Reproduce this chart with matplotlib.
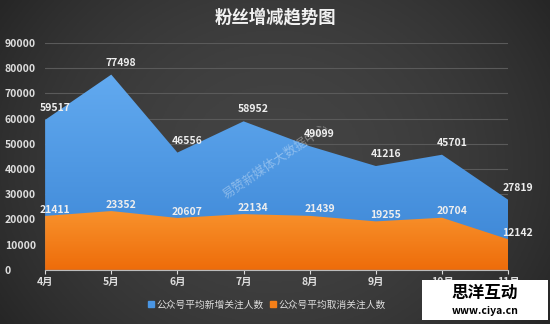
import matplotlib
matplotlib.use("Agg")
import matplotlib.pyplot as plt
import numpy as np
from matplotlib.colors import LinearSegmentedColormap

plt.rcParams["font.family"] = ["Noto Sans CJK SC", "DejaVu Sans"]

months = ["4月", "5月", "6月", "7月", "8月", "9月", "10月", "11月"]
new_follow = [59517, 77498, 46556, 58952, 49099, 41216, 45701, 27819]
unfollow = [21411, 23352, 20607, 22134, 21439, 19255, 20704, 12142]
series_names = ["公众号平均新增关注人数", "公众号平均取消关注人数"]
y_ticks = [0, 10000, 20000, 30000, 40000, 50000, 60000, 70000, 80000, 90000]

title = "粉丝增减趋势图"
watermark = "易赞新媒体大数据中心"


def gradient_fill(ax, x, y, top_color, bottom_color):
    poly = ax.fill_between(x, 0, y, color=top_color, linewidth=0)
    cmap = LinearSegmentedColormap.from_list("g", [bottom_color, top_color])
    grad = np.linspace(0, 1, 256).reshape(-1, 1)
    img = ax.imshow(grad, cmap=cmap, aspect="auto", origin="lower",
                    extent=[x[0], x[-1], 0, max(y)], zorder=poly.get_zorder())
    img.set_clip_path(poly.get_paths()[0], transform=ax.transData)
    poly.set_alpha(0)
    return poly


fig = plt.figure(figsize=(5.5, 3.24), dpi=100)

# dark background with lighter centre
bg = fig.add_axes([0, 0, 1, 1])
xx = np.linspace(-1, 1, 400)
yy = np.linspace(-1, 1, 240)
X, Y = np.meshgrid(xx, yy)
shade = 1 - 0.55 * X ** 2 - 0.25 * Y ** 2
bg_cmap = LinearSegmentedColormap.from_list("bg", ["#262626", "#434343"])
bg.imshow(shade, cmap=bg_cmap, aspect="auto", vmin=0.2, vmax=1)
bg.set_axis_off()

ax = fig.add_axes([0.082, 0.167, 0.842, 0.70])
ax.patch.set_alpha(0)
x = np.arange(len(months))

ax.set_ylim(0, 90000)
ax.set_xlim(x[0], x[-1])
ax.set_yticks(y_ticks)
ax.grid(axis="y", color="#5a5a5a", linewidth=0.8)
ax.set_axisbelow(True)

gradient_fill(ax, x, new_follow, "#62aaf0", "#3a84d4")
gradient_fill(ax, x, unfollow, "#f8922c", "#ee6c0a")

for xi, v in zip(x, new_follow):
    ax.annotate(str(v), (xi, v), xytext=(7, 5), textcoords="offset points",
                ha="center", va="bottom", color="#eeeeee", fontsize=7.5,
                fontweight="bold", zorder=5)
for xi, v in zip(x, unfollow):
    ax.annotate(str(v), (xi, v), xytext=(7, 1), textcoords="offset points",
                ha="center", va="bottom", color="#eeeeee", fontsize=7.5,
                fontweight="bold", zorder=5)

for side in ["top", "right", "left"]:
    ax.spines[side].set_visible(False)
ax.spines["bottom"].set_color("#bbbbbb")
ax.spines["bottom"].set_zorder(6)
ax.set_xticks(x)
ax.set_xticklabels(months)
ax.tick_params(axis="x", colors="#dddddd", length=3, labelsize=7.5, pad=2)
ax.tick_params(axis="y", length=0, labelsize=7.5, labelcolor="#dddddd", pad=29)
for lab in ax.get_xticklabels() + ax.get_yticklabels():
    lab.set_fontweight("bold")
for lab in ax.get_yticklabels():
    lab.set_horizontalalignment("left")

fig.text(0.5, 0.945, title, ha="center", va="center", color="#f2f2f2",
         fontsize=12.5, fontweight="bold")

handles = [plt.Rectangle((0, 0), 1, 1, color="#4a96e4"),
           plt.Rectangle((0, 0), 1, 1, color="#f47f18")]
fig.legend(handles, series_names, loc="center", bbox_to_anchor=(0.485, 0.06),
           ncol=2, frameon=False, fontsize=7, labelcolor="#dddddd",
           handlelength=0.6, handleheight=0.6, handletextpad=0.3,
           columnspacing=0.6)

ax.text(3.48, 43000, watermark, rotation=34, ha="center", va="center",
        color="white", alpha=0.35, fontsize=9, zorder=5)

# corner stamp
stamp = fig.add_axes([0.768, 0.012, 0.228, 0.125])
stamp.set_facecolor("white")
stamp.set_xticks([])
stamp.set_yticks([])
for s in stamp.spines.values():
    s.set_visible(False)
stamp.text(0.5, 0.68, "思洋互动", ha="center", va="center", fontsize=12,
           color="black", fontweight="bold", transform=stamp.transAxes)
stamp.text(0.5, 0.22, "www.ciya.cn", ha="center", va="center", fontsize=7.5,
           color="black", fontweight="bold", transform=stamp.transAxes)

fig.savefig("out.png", dpi=100)
